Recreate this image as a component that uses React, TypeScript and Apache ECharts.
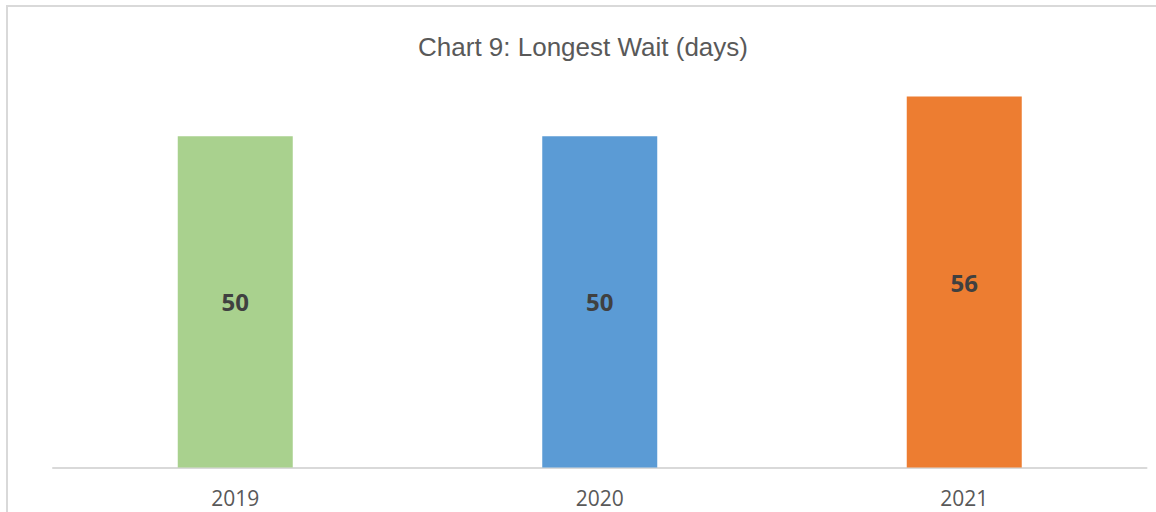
import React, { useEffect, useRef } from "react";
import * as echarts from "echarts";

// Longest wait in days, per year
const years = ["2019", "2020", "2021"];
const longestWait = [50, 50, 56];
const barColors = ["#A9D18E", "#5B9BD5", "#ED7D31"];
const yAxisMax = 60;

export default function App() {
  const ref = useRef<HTMLDivElement>(null);

  useEffect(() => {
    document.body.style.margin = "0";
    if (!ref.current) return;
    const chart = echarts.init(ref.current, null, { renderer: "svg" });
    chart.setOption({
      animation: false,
      backgroundColor: "#ffffff",
      graphic: [
        {
          type: "rect",
          shape: { x: 7, y: 6, width: 1300, height: 700 },
          style: { fill: "none", stroke: "#d9d9d9", lineWidth: 2 },
          silent: true,
        },
        {
          type: "text",
          x: 583,
          y: 47,
          style: {
            text: "Chart 9: Longest Wait (days)",
            fill: "#595959",
            font: "26px 'Liberation Sans', Arial, sans-serif",
            textAlign: "center",
            textVerticalAlign: "middle",
          },
        },
      ],
      grid: { left: 53, right: 9.5, top: 70, bottom: 44.5, containLabel: false },
      xAxis: {
        type: "category",
        data: years,
        axisLine: { lineStyle: { color: "#d9d9d9", width: 2 } },
        axisTick: { show: false },
        axisLabel: {
          color: "#595959",
          fontSize: 21,
          fontFamily: "'Open Sans', sans-serif",
          margin: 20,
        },
      },
      yAxis: {
        type: "value",
        min: 0,
        max: yAxisMax,
        show: false,
        splitLine: { show: false },
      },
      series: [
        {
          type: "bar",
          barWidth: 115,
          data: longestWait.map((v, i) => ({ value: v, itemStyle: { color: barColors[i] } })),
          label: {
            show: true,
            position: "inside",
            color: "#404040",
            fontSize: 24,
            fontWeight: "bold",
            fontFamily: "'Open Sans', sans-serif",
          },
        },
      ],
    });
    return () => chart.dispose();
  }, []);

  return <div ref={ref} style={{ width: 1156, height: 512 }} />;
}
